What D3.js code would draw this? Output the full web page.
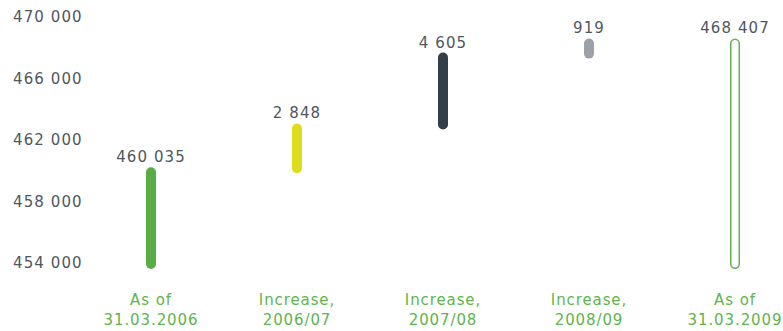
<!DOCTYPE html>
<html>
<head>
<meta charset="utf-8">
<script src="https://cdn.jsdelivr.net/npm/d3@7/dist/d3.min.js"></script>
<style>
  html, body { margin: 0; padding: 0; background: #fff; }
  svg { display: block; }
  text { font-family: "DejaVu Sans", sans-serif; }
</style>
</head>
<body>
<svg id="chart" width="783" height="331"></svg>
<script>
// Waterfall: opening total, yearly increases, closing total
const categoryTop = ["As of", "Increase,", "Increase,", "Increase,", "As of"];
const categoryBottom = ["31.03.2006", "2006/07", "2007/08", "2008/09", "31.03.2009"];
const openingValue = 460035;
const increases = [2848, 4605, 919];
const closingValue = 468407;
const baseValue = 453800;
const tickValues = [454000, 458000, 462000, 466000, 470000];

const barColors = ["#5aad46", "#dfdc1c", "#323e48", "#9aa1a9", "#ffffff"];
const green = "#5fb44c";
const textGray = "#50575f";

// Build segment [low, high] for each bar
const segments = [];
segments.push({ low: baseValue, high: openingValue, label: openingValue });
let running = openingValue;
increases.forEach(v => {
  segments.push({ low: running, high: running + v, label: v });
  running += v;
});
segments.push({ low: baseValue, high: closingValue, label: closingValue, outline: true });

const svg = d3.select("#chart");

const x = d3.scalePoint()
  .domain(d3.range(categoryTop.length))
  .range([151, 735]);

const y = d3.scaleLinear()
  .domain([454000, 470000])
  .range([263, 17]);

const fmt = d3.formatLocale({ decimal: ".", thousands: " ", grouping: [3], currency: ["", ""] }).format(",d");

// Y axis labels only, no line or ticks
const yAxis = d3.axisLeft(y).tickValues(tickValues).tickSize(0).tickFormat(fmt);
const yg = svg.append("g").attr("transform", "translate(13,0)").call(yAxis);
yg.select(".domain").remove();
yg.selectAll("text")
  .attr("x", 0)
  .attr("text-anchor", "start")
  .attr("fill", textGray)
  .style("font-family", "'DejaVu Sans', sans-serif")
  .style("font-size", "15px")
  .style("letter-spacing", "1.1px");

const pad = 3;
const barW = 10;

const bars = svg.append("g");
segments.forEach((s, i) => {
  const top = y(s.high) - pad;
  const bottom = y(s.low) + pad;
  const cx = x(i);
  if (s.outline) {
    bars.append("rect")
      .attr("x", cx - barW / 2 + 0.75)
      .attr("y", top + 0.75)
      .attr("width", barW - 1.5)
      .attr("height", bottom - top - 1.5)
      .attr("rx", 4.5)
      .attr("fill", "#fff")
      .attr("stroke", green)
      .attr("stroke-width", 1.5);
  } else {
    bars.append("rect")
      .attr("x", cx - barW / 2)
      .attr("y", top)
      .attr("width", barW)
      .attr("height", bottom - top)
      .attr("rx", barW / 2)
      .attr("fill", barColors[i]);
  }
  svg.append("text")
    .attr("x", cx)
    .attr("y", top - 5)
    .attr("text-anchor", "middle")
    .attr("fill", textGray)
    .style("font-size", "15px")
    .style("letter-spacing", "1.1px")
    .text(fmt(s.label));
});

// Category labels along the bottom
const cats = svg.append("g");
categoryTop.forEach((t, i) => {
  const tx = cats.append("text")
    .attr("text-anchor", "middle")
    .attr("fill", green)
    .style("font-size", "15px")
    .style("letter-spacing", "0.9px");
  tx.append("tspan").attr("x", x(i)).attr("y", 305).text(t);
  tx.append("tspan").attr("x", x(i)).attr("y", 325).text(categoryBottom[i]);
});
</script>
</body>
</html>
